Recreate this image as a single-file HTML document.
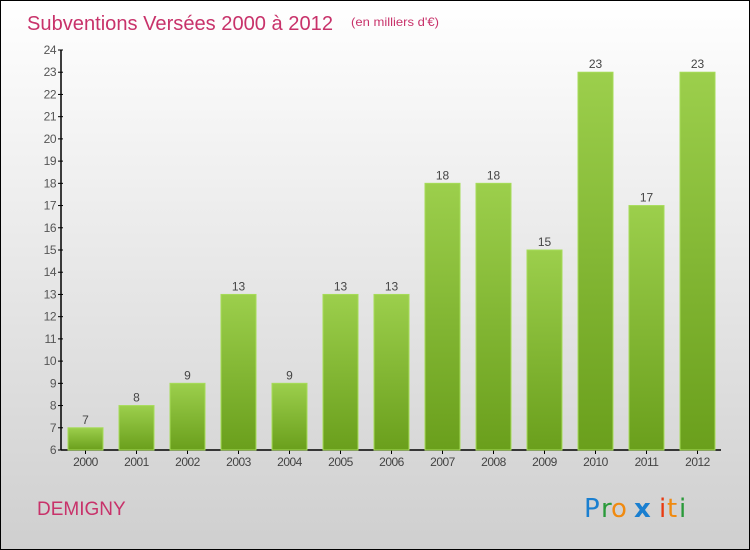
<!DOCTYPE html>
<html><head><meta charset="utf-8"><style>
body{margin:0}
#c{width:748px;height:548px;border:1px solid #000;background:linear-gradient(#fff,#cfcfcf);position:relative;font-family:"Liberation Sans",sans-serif;overflow:hidden}
</style></head><body>
<div id="c">
<svg id="s" width="748" height="548">
<defs><linearGradient id="g" x1="0" y1="0" x2="0" y2="1"><stop offset="0" stop-color="#9ccf4c"/><stop offset="1" stop-color="#6a9f1c"/></linearGradient></defs>
<text x="26" y="29" font-size="20" fill="#c8326a" textLength="306" lengthAdjust="spacingAndGlyphs">Subventions Versées 2000 à 2012</text>
<text x="350" y="25" font-size="12" fill="#c8326a" textLength="88" lengthAdjust="spacingAndGlyphs">(en milliers d'€)</text>
<text x="36" y="514" font-size="19" fill="#c8326a">DEMIGNY</text>
<g font-size="26" font-family="'DejaVu Sans',sans-serif">
<text x="583" y="516" fill="#1a7fd0">P</text><text x="600" y="516" fill="#2a9a3a">r</text><text x="610" y="516" fill="#f08a10">o</text><text x="633" y="516" fill="#1a7fd0" font-weight="bold">x</text><text x="658" y="516" fill="#e83a10">i</text><text x="666" y="516" fill="#f08a10">t</text><text x="678" y="516" fill="#2a9a3a">i</text>
</g>
<g id="axes"></g><g id="bars"></g>
</svg></div>
<script>
const categories=["2000","2001","2002","2003","2004","2005","2006","2007","2008","2009","2010","2011","2012"];
const values=[7,8,9,13,9,13,13,18,18,15,23,17,23];
const yTicks=[6,7,8,9,10,11,12,13,14,15,16,17,18,19,20,21,22,23,24];
const ns="http://www.w3.org/2000/svg";
const y0=449,y1=49,vmin=6,vmax=24;
const y=v=>y0-(v-vmin)/(vmax-vmin)*(y0-y1);
const x=i=>84.5+51*i;
const ax=document.getElementById('axes'),bg=document.getElementById('bars');
function mk(t,a,p){const e=document.createElementNS(ns,t);for(const k in a)e.setAttribute(k,a[k]);p.appendChild(e);return e;}
let l=mk('line',{x1:60,y1:y1,x2:60,y2:y0,stroke:'#000','stroke-width':1.5},ax);


l=mk('line',{x1:60,y1:y0,x2:720,y2:y0,stroke:'#000','stroke-width':1.5},ax);


yTicks.forEach(v=>{
 mk('line',{x1:57,x2:62,y1:y(v),y2:y(v),stroke:'#000'},ax);
 const t=mk('text',{x:55,y:y(v)+4,'text-anchor':'end','font-size':12,fill:'#555','letter-spacing':'-0.5'},ax);
 t.textContent=v;
 
 
});
categories.forEach((c,i)=>{
 const cx=x(i);
 mk('line',{x1:cx,x2:cx,y1:y0,y2:y0+4,stroke:'#000'},ax);
 const t=mk('text',{x:cx,y:y0+16,'text-anchor':'middle','font-size':12,fill:'#444','letter-spacing':'-0.5'},ax);
 t.textContent=c;
 
 
 const r=mk('rect',{x:cx-17.5,y:y(values[i]),width:35,height:y0-y(values[i]),fill:'url(#g)',stroke:'#a6dc58','stroke-width':1},bg);
 
 
 const vt=mk('text',{x:cx,y:y(values[i])-4,'text-anchor':'middle','font-size':12,fill:'#444'},bg);
 vt.textContent=values[i];
 
 
});
</script>
</body></html>
